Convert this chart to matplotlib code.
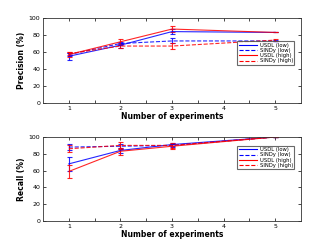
import numpy as np
import matplotlib
matplotlib.use("Agg")
import matplotlib.pyplot as plt
from matplotlib.lines import Line2D

x = [1, 2, 3, 5]
labels = ['USDL (low)', 'SINDy (low)', 'USDL (high)', 'SINDy (high)']
colors = ['blue', 'blue', 'red', 'red']
styles = ['-', '--', '-', '--']

# Precision (%)
prec = [[55, 68, 84, 83],
        [57, 70, 73, 73],
        [57, 72, 87, 83],
        [58, 67, 67, 74]]
prec_err = [[4, 3, 3, 0],
            [2, 2, 3, 1],
            [3, 3, 3, 0],
            [2, 2, 3, 1]]

# Recall (%)
rec = [[68, 84, 91, 100],
       [88, 89, 90, 100],
       [59, 83, 89, 100],
       [86, 90, 90, 100]]
rec_err = [[8, 3, 2, 0],
           [4, 3, 2, 0],
           [8, 4, 3, 0],
           [4, 4, 3, 0]]

plt.rcParams['font.family'] = 'DejaVu Sans'
fig = plt.figure(figsize=(3.32, 2.49), dpi=100)
ax1 = fig.add_axes([43/332, 1-103/249, 258/332, 85/249])
ax2 = fig.add_axes([43/332, 1-221/249, 258/332, 84/249])

handles = [Line2D([], [], color=colors[i], ls=styles[i], lw=0.8)
           for i in range(4)]

for ax, data, err, ylab in [(ax1, prec, prec_err, 'Precision (%)'),
                            (ax2, rec, rec_err, 'Recall (%)')]:
    for i in range(4):
        ax.errorbar(x, data[i], yerr=err[i], color=colors[i], ls=styles[i],
                    lw=0.8, elinewidth=0.8, capsize=1.8, capthick=0.8,
                    alpha=0.85)
    ax.set_xlim(0.5, 5.5)
    ax.set_ylim(0, 100)
    ax.set_xticks([1, 2, 3, 4, 5])
    ax.set_xticks([1.5, 2.5, 3.5, 4.5], minor=True)
    ax.set_yticks([0, 20, 40, 60, 80, 100])
    ax.tick_params(direction='in', labelsize=4.5, length=2, width=0.5,
                   top=True, right=True, pad=2)
    ax.tick_params(which='minor', direction='in', length=2, width=0.5,
                   top=True)
    for s in ax.spines.values():
        s.set_linewidth(0.6)
        s.set_color('#333333')
    ax.set_xlabel('Number of experiments', fontsize=5.5, fontweight='bold',
                  labelpad=1)
    ax.set_ylabel(ylab, fontsize=5.5, fontweight='bold', labelpad=2)
    leg = ax.legend(handles, labels, loc='upper right', fontsize=3.8,
                    frameon=True, fancybox=False, handlelength=3.5,
                    borderpad=0.3, labelspacing=0.05, handletextpad=0.4,
                    bbox_to_anchor=(0.985, 0.76 if ax is ax1 else 0.93))
    leg.get_frame().set_edgecolor('#444444')
    leg.get_frame().set_linewidth(0.8)

fig.savefig('out.png', dpi=100)
